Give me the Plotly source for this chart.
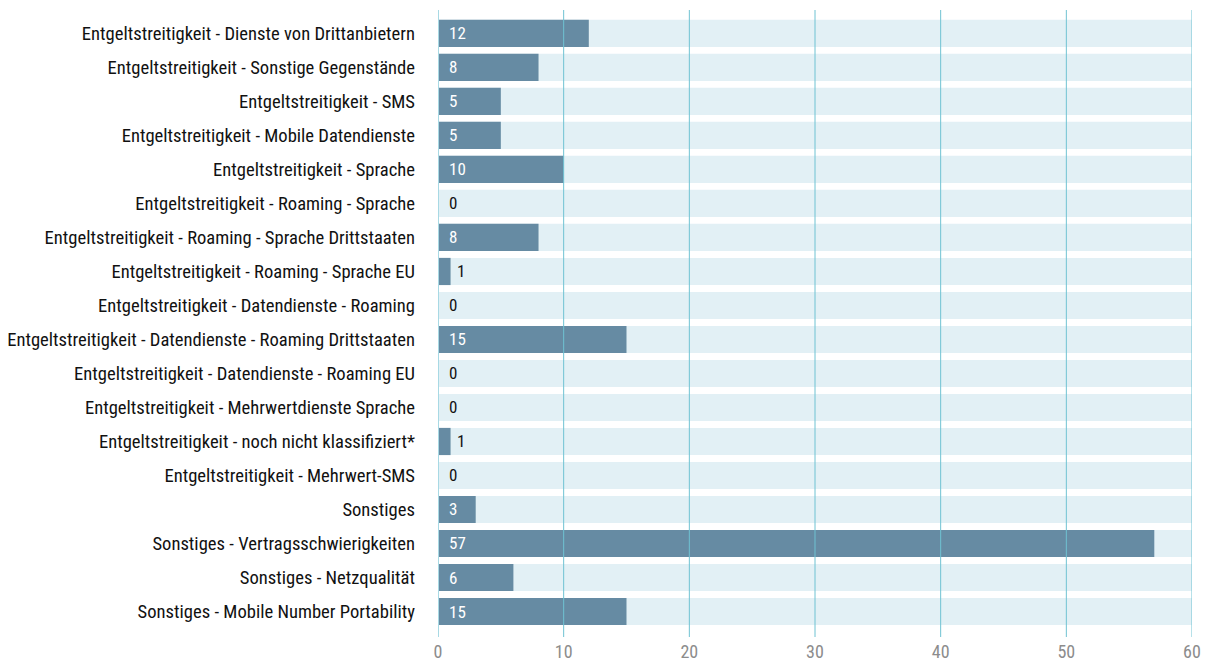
import plotly.graph_objects as go

categories = [
    "Entgeltstreitigkeit - Dienste von Drittanbietern",
    "Entgeltstreitigkeit - Sonstige Gegenstände",
    "Entgeltstreitigkeit - SMS",
    "Entgeltstreitigkeit - Mobile Datendienste",
    "Entgeltstreitigkeit - Sprache",
    "Entgeltstreitigkeit - Roaming - Sprache",
    "Entgeltstreitigkeit - Roaming - Sprache Drittstaaten",
    "Entgeltstreitigkeit - Roaming - Sprache EU",
    "Entgeltstreitigkeit - Datendienste - Roaming",
    "Entgeltstreitigkeit - Datendienste - Roaming Drittstaaten",
    "Entgeltstreitigkeit - Datendienste - Roaming EU",
    "Entgeltstreitigkeit - Mehrwertdienste Sprache",
    "Entgeltstreitigkeit - noch nicht klassifiziert*",
    "Entgeltstreitigkeit - Mehrwert-SMS",
    "Sonstiges",
    "Sonstiges - Vertragsschwierigkeiten",
    "Sonstiges - Netzqualität",
    "Sonstiges - Mobile Number Portability",
]
values = [12, 8, 5, 5, 10, 0, 8, 1, 0, 15, 0, 0, 1, 0, 3, 57, 6, 15]
axis_max = 60
tick_values = [0, 10, 20, 30, 40, 50, 60]

FONT = "Roboto Condensed, Liberation Sans Narrow, DejaVu Sans Condensed, sans-serif"

fig = go.Figure()

# light full-width track behind each bar
fig.add_trace(go.Bar(
    y=categories, x=[axis_max] * len(categories), orientation="h",
    marker=dict(color="#e2f0f5", line=dict(width=0)),
    hoverinfo="skip", showlegend=False,
))
fig.add_trace(go.Bar(
    y=categories, x=values, orientation="h",
    marker=dict(color="#668ba3", line=dict(width=0)),
    showlegend=False,
))

# value labels: white inside the bar, dark next to very short bars
annotations = []
for cat, v in zip(categories, values):
    inside = v >= 3
    if inside or v == 0:
        ax, shift = 0, 9
    else:
        ax, shift = v, 4
    annotations.append(dict(
        x=ax, y=cat, xref="x", yref="y", text=str(v), showarrow=False,
        xanchor="left", xshift=shift, yshift=0,
        font=dict(family=FONT, size=17, color="#ffffff" if inside else "#111111"),
    ))

# vertical grid lines drawn on top of the bars
shapes = []
for t in tick_values:
    shapes.append(dict(
        type="line", xref="x", yref="paper", x0=t, x1=t, y0=0, y1=1,
        line=dict(color="#a8d9e4" if t == 0 else "#6fc2d2", width=2 if t == 0 else 1),
        layer="above",
    ))

fig.update_layout(
    width=1208, height=662,
    margin=dict(l=438, r=16, t=10, b=25),
    barmode="overlay", bargap=0.2,
    plot_bgcolor="white", paper_bgcolor="white",
    font=dict(family=FONT, size=18, color="#111111"),
    annotations=annotations,
    shapes=shapes,
    xaxis=dict(
        range=[0, axis_max], tickvals=tick_values, showgrid=False,
        zeroline=False, showline=False, automargin=False,
        ticks="", tickfont=dict(family=FONT, size=18, color="#8c8c8c"),
        ticklabelstandoff=2,
    ),
    yaxis=dict(
        categoryorder="array", categoryarray=categories,
        range=[17.75, -0.69], showgrid=False, zeroline=False, automargin=False,
        ticks="", ticklabelstandoff=22,
        tickfont=dict(family=FONT, size=18.6, color="#111111"),
    ),
)

fig.write_html("out.html")
